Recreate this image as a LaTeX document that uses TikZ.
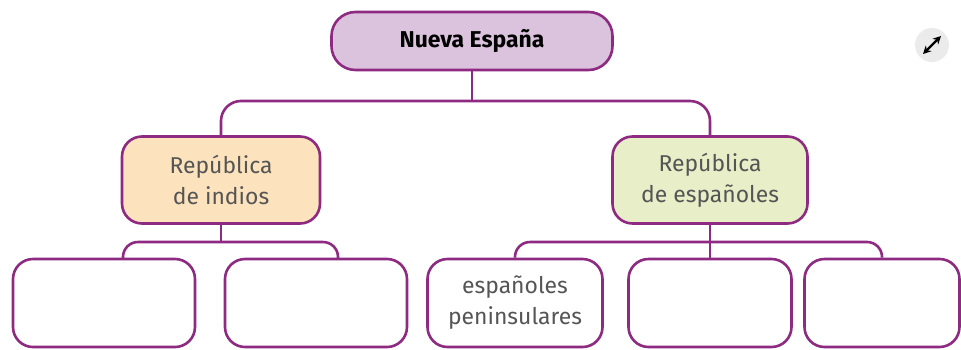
\documentclass[tikz,border=0pt]{standalone}
\usepackage{fontspec}
\setmainfont{Fira Sans}
\usetikzlibrary{arrows.meta}

\definecolor{linkpurple}{HTML}{8E2A82}
\definecolor{rootfill}{HTML}{DCC3DD}
\definecolor{indiosfill}{HTML}{FCE3BD}
\definecolor{espfill}{HTML}{E8EEC7}
\definecolor{txtgray}{HTML}{555555}

\begin{document}
\begin{tikzpicture}[x=1bp, y=-1bp,
  box/.style={draw=linkpurple, line width=2.6bp, rounded corners=20bp,
    align=center, text=txtgray, font=\fontsize{23}{31}\selectfont, inner sep=0pt},
  leaf/.style={box, fill=white, minimum width=182bp, minimum height=88bp},
  link/.style={draw=linkpurple, line width=2.6bp}]

\useasboundingbox (0,0) rectangle (961,349);

\node [box, fill=rootfill, text=black, rounded corners=24bp, minimum width=281bp,
  minimum height=58bp, font=\bfseries\fontsize{23}{30}\selectfont] (nueva) at (472,41) {Nueva Espa\~na};

\node [box, fill=indiosfill, minimum width=198bp, minimum height=87bp] (indios) at (221,180) {Rep\'ublica\\de indios};
\node [box, fill=espfill, minimum width=195bp, minimum height=87bp] (espanoles) at (710,180) {Rep\'ublica\\de espa\~noles};

\node [leaf] (b1) at (104,303) {};
\node [leaf] (b2) at (316,303) {};
\node [leaf, minimum width=175bp] (b3) at (515,303) {espa\~noles\\peninsulares};
\node [leaf, minimum width=163bp] (b4) at (710,303) {};
\node [leaf, minimum width=155bp] (b5) at (882,303) {};

% first level
\coordinate (top) at (472,101);
\draw [link] (nueva.south) -- (top);
\draw [link, rounded corners=20bp] (indios.north) |- (top) -| (espanoles.north);

% republica de indios
\coordinate (ij) at (221,242);
\coordinate (d1) at (123,259);
\coordinate (d2) at (338,259);
\draw [link] (indios.south) -- (ij);
\draw [link, rounded corners=15bp] (d1) |- (ij) -| (d2);

% republica de espanoles
\coordinate (ej) at (710,242);
\draw [link] (espanoles.south) -- (b4.north);
\draw [link, rounded corners=15bp] (b3.north) |- (ej) -| (b5.north);

% expand icon
\fill [black!8] (932,45) circle (17bp);
\draw [{Stealth[length=8bp,width=8bp]}-{Stealth[length=8bp,width=8bp]}, line width=2.4bp] (923,54) -- (941,36);

\end{tikzpicture}
\end{document}
